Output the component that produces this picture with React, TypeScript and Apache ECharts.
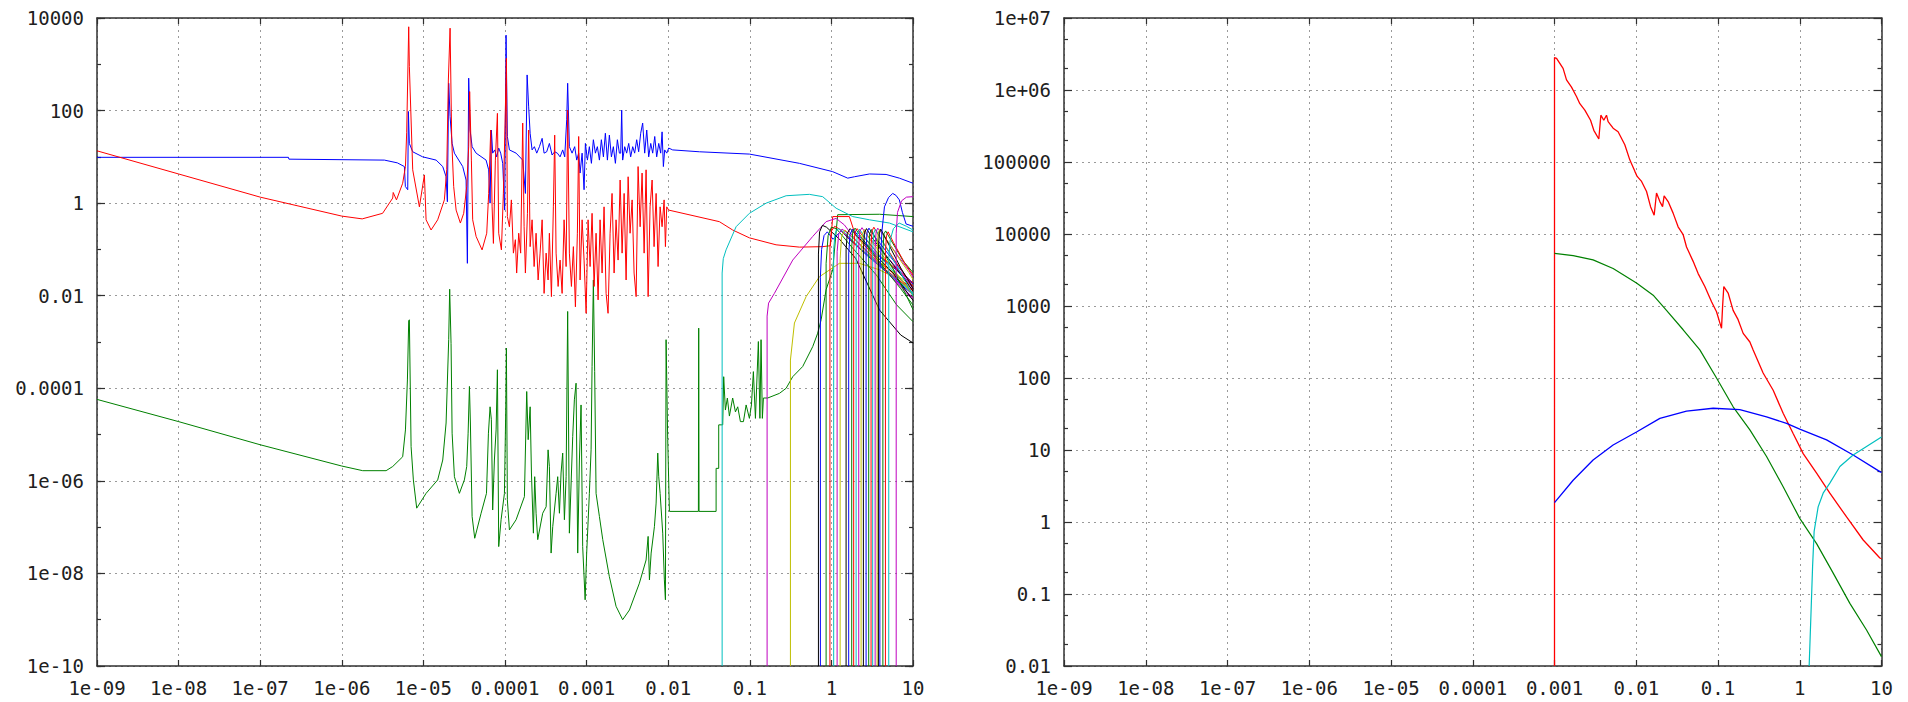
import React, { useEffect, useRef } from "react";
import * as echarts from "echarts";

// The axes are drawn on those exponents and labelled in gnuplot "%g" style.

type P = [number, number];

// ---------- LEFT PANEL ----------
const leftBlue: P[] = [[-9,0.99],[-6.654,0.99],[-6.648,0.95],[-5.478,0.93],[-5.319,0.87],[-5.233,0.79],[-5.221,0.36],[-5.192,0.29],[-5.184,1.98],[-5.172,1.29],[-5.131,1.11],[-5.009,1.0],[-4.844,0.93],[-4.763,0.79],[-4.722,0.57],[-4.706,0.03],[-4.69,2.59],[-4.673,1.87],[-4.648,1.29],[-4.62,1.08],[-4.518,0.79],[-4.477,0.5],[-4.461,-1.3],[-4.445,2.7],[-4.428,1.58],[-4.403,1.22],[-4.354,1.08],[-4.232,0.93],[-4.2,0.72],[-4.183,0.0],[-4.167,1.58],[-4.151,1.08],[-4.126,1.15],[-4.102,1.0],[-4.077,1.19],[-4.053,1.08],[-4.028,0.86],[-4.004,-0.15],[-3.987,3.63],[-3.971,1.44],[-3.946,1.15],[-3.864,1.08],[-3.783,0.93],[-3.75,0.21],[-3.729,2.77],[-3.71,2.08],[-3.692,1.51],[-3.668,1.15],[-3.64,1.22],[-3.611,1.08],[-3.578,1.22],[-3.545,1.4],[-3.521,1.08],[-3.489,1.11],[-3.456,1.29],[-3.423,1.04],[-3.391,1.11],[-3.358,1.08],[-3.325,1.0],[-3.293,1.15],[-3.268,1.0],[-3.244,1.8],[-3.232,2.59],[-3.211,1.22],[-3.178,1.08],[-3.146,1.22],[-3.121,0.93],[-3.097,1.08],[-3.08,0.65],[-3.055,1.08],[-3.031,0.29],[-3.015,1.29],[-2.99,0.93],[-2.966,1.22],[-2.941,0.86],[-2.917,1.37],[-2.892,1.08],[-2.868,1.22],[-2.843,0.93],[-2.819,1.37],[-2.794,1.0],[-2.77,1.51],[-2.745,0.93],[-2.721,1.47],[-2.696,1.0],[-2.672,1.22],[-2.647,0.86],[-2.623,1.37],[-2.598,1.08],[-2.582,1.08],[-2.57,2.01],[-2.558,0.93],[-2.533,1.22],[-2.509,1.08],[-2.484,1.29],[-2.46,1.0],[-2.435,1.22],[-2.411,1.08],[-2.386,1.37],[-2.362,1.11],[-2.337,1.51],[-2.313,1.73],[-2.288,1.08],[-2.263,1.58],[-2.239,1.0],[-2.214,1.29],[-2.19,1.08],[-2.165,1.44],[-2.141,1.0],[-2.116,1.29],[-2.092,1.08],[-2.075,1.54],[-2.059,0.79],[-2.043,1.15],[-2.018,1.08],[-1.994,1.19],[-1.945,1.15],[-1.618,1.11],[-1.005,1.06],[-0.392,0.86],[0.016,0.68],[0.2,0.54],[0.282,0.57],[0.466,0.63],[0.67,0.62],[0.833,0.54],[1.0,0.43]];

const leftGreen: P[] = [[-9,-4.24],[-8,-4.72],[-7,-5.22],[-6,-5.68],[-5.744,-5.78],[-5.457,-5.78],[-5.376,-5.69],[-5.254,-5.48],[-5.22,-4.9],[-5.196,-3.82],[-5.18,-2.54],[-5.172,-2.52],[-5.151,-5.26],[-5.123,-5.98],[-5.082,-6.59],[-4.967,-6.27],[-4.825,-5.98],[-4.763,-5.55],[-4.722,-4.75],[-4.69,-2.95],[-4.678,-1.86],[-4.661,-3.03],[-4.648,-4.97],[-4.62,-5.91],[-4.559,-6.27],[-4.498,-5.98],[-4.469,-5.69],[-4.452,-4.97],[-4.436,-3.96],[-4.424,-4.75],[-4.403,-6.77],[-4.371,-7.24],[-4.293,-6.7],[-4.227,-6.27],[-4.203,-4.97],[-4.183,-4.4],[-4.167,-4.68],[-4.151,-6.63],[-4.13,-5.55],[-4.109,-4.9],[-4.093,-3.6],[-4.077,-7.42],[-4.048,-6.84],[-4.007,-6.27],[-3.991,-4.47],[-3.983,-3.13],[-3.971,-6.41],[-3.946,-7.06],[-3.864,-6.84],[-3.762,-6.34],[-3.734,-4.07],[-3.716,-5.11],[-3.692,-4.4],[-3.676,-5.83],[-3.652,-7.13],[-3.636,-5.91],[-3.619,-6.7],[-3.599,-7.27],[-3.538,-6.7],[-3.496,-6.56],[-3.472,-5.33],[-3.456,-5.69],[-3.435,-7.56],[-3.415,-6.99],[-3.374,-6.27],[-3.354,-5.91],[-3.333,-6.7],[-3.313,-5.83],[-3.293,-5.4],[-3.272,-6.84],[-3.251,-5.91],[-3.232,-2.34],[-3.211,-7.13],[-3.17,-5.04],[-3.15,-4.25],[-3.129,-3.89],[-3.109,-7.56],[-3.088,-5.55],[-3.068,-4.36],[-3.048,-7.42],[-3.018,-8.57],[-2.999,-7.56],[-2.966,-6.27],[-2.945,-5.33],[-2.933,-3.53],[-2.917,-1.66],[-2.901,-3.64],[-2.884,-6.27],[-2.843,-6.77],[-2.802,-7.27],[-2.721,-8.07],[-2.639,-8.71],[-2.558,-9.0],[-2.475,-8.79],[-2.353,-8.21],[-2.271,-7.71],[-2.246,-7.2],[-2.23,-8.14],[-2.209,-7.56],[-2.169,-6.99],[-2.148,-6.48],[-2.128,-5.4],[-2.116,-5.91],[-2.099,-6.27],[-2.067,-7.13],[-2.047,-8.14],[-2.034,-8.57],[-2.026,-2.95],[-2.006,-5.11],[-1.985,-6.66],[-1.63,-6.66],[-1.626,-2.7],[-1.622,-6.66],[-1.413,-6.66],[-1.413,-5.73],[-1.381,-5.73],[-1.381,-4.79],[-1.332,-4.79],[-1.32,-3.75],[-1.299,-4.47],[-1.275,-4.21],[-1.25,-4.6],[-1.21,-4.21],[-1.176,-4.51],[-1.148,-4.4],[-1.115,-4.72],[-1.078,-4.72],[-1.045,-4.36],[-1.005,-4.65],[-0.98,-4.36],[-0.956,-3.64],[-0.931,-4.65],[-0.895,-2.99],[-0.876,-4.65],[-0.862,-2.95],[-0.846,-4.65],[-0.833,-4.21],[-0.781,-4.21],[-0.637,-4.11],[-0.555,-4.0],[-0.474,-3.75],[-0.352,-3.53],[-0.229,-3.1],[-0.168,-2.81],[-0.126,-2.52],[-0.065,-1.87],[0.016,-1.44],[0.077,-0.25],[0.588,-0.24],[1.0,-0.29]];

const leftRed: P[] = [[-9,1.13],[-8,0.63],[-7,0.13],[-6,-0.28],[-5.75,-0.34],[-5.5,-0.22],[-5.376,0.11],[-5.37,0.23],[-5.33,0.07],[-5.254,0.43],[-5.22,0.79],[-5.205,1.52],[-5.18,3.81],[-5.172,2.95],[-5.131,0.72],[-5.049,-0.08],[-4.988,0.61],[-4.967,-0.36],[-4.906,-0.58],[-4.825,-0.36],[-4.743,0.07],[-4.714,0.72],[-4.694,2.66],[-4.673,3.78],[-4.653,1.37],[-4.629,0.36],[-4.599,-0.15],[-4.547,-0.43],[-4.506,-0.22],[-4.469,0.36],[-4.445,1.22],[-4.433,2.41],[-4.412,0.93],[-4.396,-0.36],[-4.354,-0.72],[-4.281,-1.01],[-4.224,-0.65],[-4.2,0.21],[-4.175,1.58],[-4.158,-0.08],[-4.142,-0.87],[-4.118,0.93],[-4.093,1.94],[-4.077,-0.65],[-4.044,-1.01],[-4.02,0.21],[-3.999,1.73],[-3.983,3.13],[-3.971,-0.29],[-3.946,-0.51],[-3.922,0.07],[-3.897,-1.08],[-3.873,-0.79],[-3.857,-1.51],[-3.832,-0.65],[-3.808,-1.08],[-3.783,1.73],[-3.766,-0.51],[-3.75,-1.51],[-3.725,-0.22],[-3.71,1.58],[-3.692,-0.94],[-3.668,-0.36],[-3.643,-1.37],[-3.619,-0.65],[-3.594,-1.66],[-3.57,-1.08],[-3.545,-0.36],[-3.521,-1.95],[-3.496,-1.08],[-3.472,-1.66],[-3.456,-0.65],[-3.431,-2.02],[-3.407,-0.08],[-3.391,1.47],[-3.374,-1.08],[-3.349,-1.8],[-3.325,-1.23],[-3.3,-1.95],[-3.276,-0.36],[-3.251,-1.37],[-3.232,2.01],[-3.211,-1.08],[-3.186,-1.8],[-3.162,-0.94],[-3.137,-2.24],[-3.113,-0.65],[-3.097,1.44],[-3.08,-1.66],[-3.055,-0.36],[-3.031,-1.23],[-3.006,-2.38],[-2.982,-0.36],[-2.957,-1.37],[-2.933,-0.22],[-2.908,-1.8],[-2.884,-0.65],[-2.859,-2.09],[-2.835,-0.36],[-2.81,-1.51],[-2.786,-0.08],[-2.761,-1.95],[-2.737,-2.38],[-2.712,-0.65],[-2.688,0.21],[-2.663,-1.51],[-2.639,-0.36],[-2.614,-1.23],[-2.589,0.5],[-2.565,-1.08],[-2.54,0.21],[-2.516,-1.66],[-2.491,0.57],[-2.467,-0.65],[-2.442,0.07],[-2.418,-1.51],[-2.393,-2.02],[-2.369,0.79],[-2.344,-0.51],[-2.32,0.65],[-2.295,-1.08],[-2.271,0.72],[-2.246,-2.02],[-2.222,-0.08],[-2.197,0.5],[-2.173,-0.94],[-2.148,0.21],[-2.124,-1.37],[-2.099,-0.08],[-2.075,-0.51],[-2.05,0.07],[-2.034,-0.94],[-2.018,-0.08],[-1.994,-0.15],[-1.373,-0.4],[-1.21,-0.58],[-1.005,-0.75],[-0.678,-0.9],[-0.392,-0.95],[-0.107,-0.94],[-0.012,-0.92],[0.016,-0.29],[0.22,-0.29],[0.294,-0.69],[0.588,-1.27],[1.0,-1.87]];

const leftCyanWide: P[] = [[-1.339,-10],[-1.339,-1.51],[-1.325,-1.2],[-1.291,-1.01],[-1.168,-0.51],[-1.005,-0.22],[-0.8,0.0],[-0.555,0.16],[-0.27,0.19],[-0.107,0.14],[0.058,-0.11],[0.261,-0.29],[0.466,-0.36],[0.711,-0.43],[1.0,-0.62]];
const leftMagentaWide: P[] = [[-0.788,-10],[-0.788,-2.44],[-0.77,-2.16],[-0.699,-1.95],[-0.474,-1.23],[-0.229,-0.72],[-0.065,-0.4],[0.058,-0.33],[0.159,-0.47],[0.343,-0.9],[0.588,-1.33],[1.0,-2.09]];
const leftYellowWide: P[] = [[-0.502,-10],[-0.502,-3.39],[-0.453,-2.59],[-0.31,-2.02],[-0.147,-1.59],[0.098,-1.3],[0.343,-1.3],[0.588,-1.44],[0.833,-1.66],[1.0,-1.98]];

// The bundle of narrow curves between x = 0.7 and x = 6, in plotting order.
const bundleColorKeys = ["k","b","g","r","c","m","y","k","b","g","r","c","m","y","k","b","g","r","c","m","y","k","b","g","r","c","m"];
const bundleCurves: P[][] = [
  [[-0.159,-10],[-0.159,-1.1],[-0.145,-0.62],[-0.11,-0.48],[-0.06,-0.52],[0.1,-0.78],[0.3,-1.2],[0.59,-2.31],[0.85,-2.85],[1.0,-3.02]],
  [[-0.135,-10],[-0.135,-1.6],[-0.12,-1.0],[-0.09,-0.7],[-0.05,-0.62],[0.02,-0.78],[0.12,-0.6],[0.2,-0.75],[0.45,-1.15],[0.75,-1.6],[1.0,-1.98]],
  [[-0.065,-10],[-0.065,-1.3],[-0.04,-0.7],[0.0,-0.52],[0.06,-0.55],[0.25,-0.95],[0.55,-1.55],[0.8,-2.2],[1.0,-2.56]],
  [[-0.018,-10],[-0.018,-0.95],[0.0,-0.6],[0.04,-0.5],[0.1,-0.56],[0.3,-0.9],[0.6,-1.35],[1.0,-1.9]],
  [[0.028,-10],[0.028,-1.0],[0.045,-0.65],[0.08,-0.55],[0.15,-0.62],[0.4,-1.05],[0.7,-1.5],[1.0,-1.95]],
  [[0.07,-10],[0.07,-1.05],[0.09,-0.66],[0.13,-0.56],[0.2,-0.65],[0.42,-1.0],[0.75,-1.6],[1.0,-2.05]],
  [[0.107,-10],[0.107,-1.2],[0.125,-0.72],[0.165,-0.58],[0.24,-0.7],[0.5,-1.15],[0.8,-1.55],[1.0,-1.8]],
  [[0.18,-10],[0.18,-1.0],[0.195,-0.65],[0.23,-0.55],[0.3,-0.68],[0.5,-1.05],[0.75,-1.5],[1.0,-2.1]],
  [[0.212,-10],[0.212,-1.1],[0.228,-0.68],[0.26,-0.56],[0.33,-0.7],[0.55,-1.1],[0.8,-1.45],[1.0,-1.8]],
  [[0.249,-10],[0.249,-0.95],[0.262,-0.62],[0.29,-0.54],[0.36,-0.72],[0.6,-1.3],[0.85,-1.85],[1.0,-2.2]],
  [[0.273,-10],[0.273,-1.0],[0.288,-0.64],[0.315,-0.55],[0.38,-0.7],[0.6,-1.15],[0.85,-1.5],[1.0,-1.72]],
  [[0.303,-10],[0.303,-1.05],[0.318,-0.66],[0.345,-0.56],[0.41,-0.74],[0.62,-1.2],[0.85,-1.65],[1.0,-1.95]],
  [[0.335,-10],[0.335,-0.9],[0.35,-0.6],[0.375,-0.53],[0.44,-0.7],[0.65,-1.1],[0.88,-1.55],[1.0,-1.85]],
  [[0.364,-10],[0.364,-1.1],[0.378,-0.68],[0.405,-0.57],[0.47,-0.78],[0.68,-1.25],[0.9,-1.75],[1.0,-2.0]],
  [[0.392,-10],[0.392,-1.0],[0.405,-0.64],[0.43,-0.55],[0.5,-0.75],[0.7,-1.2],[0.9,-1.65],[1.0,-1.9]],
  [[0.425,-10],[0.425,-0.95],[0.438,-0.62],[0.46,-0.54],[0.52,-0.7],[0.72,-1.15],[0.9,-1.55],[1.0,-1.75]],
  [[0.457,-10],[0.457,-1.05],[0.47,-0.66],[0.49,-0.57],[0.55,-0.8],[0.75,-1.4],[0.92,-2.0],[1.0,-2.3]],
  [[0.486,-10],[0.486,-0.9],[0.498,-0.6],[0.52,-0.52],[0.58,-0.7],[0.78,-1.25],[0.93,-1.62],[1.0,-1.8]],
  [[0.506,-10],[0.506,-1.0],[0.518,-0.65],[0.54,-0.56],[0.6,-0.75],[0.8,-1.35],[0.94,-1.8],[1.0,-2.0]],
  [[0.536,-10],[0.536,-0.95],[0.548,-0.62],[0.568,-0.54],[0.63,-0.68],[0.82,-1.15],[0.95,-1.45],[1.0,-1.6]],
  [[0.56,-10],[0.56,-1.05],[0.572,-0.66],[0.59,-0.57],[0.65,-0.72],[0.83,-1.2],[0.95,-1.5],[1.0,-1.65]],
  [[0.576,-10],[0.576,-1.0],[0.588,-0.64],[0.605,-0.56],[0.67,-0.78],[0.85,-1.4],[0.96,-1.72],[1.0,-1.85]],
  [[0.594,-10],[0.594,-1.45],[0.62,-0.6],[0.65,-0.08],[0.7,0.12],[0.751,0.21],[0.79,0.17],[0.833,0.07],[0.87,-0.2],[0.915,-0.45],[1.0,-0.5]],
  [[0.631,-10],[0.631,-1.0],[0.645,-0.66],[0.665,-0.6],[0.73,-0.8],[0.88,-1.25],[1.0,-1.5]],
  [[0.662,-10],[0.662,-1.05],[0.675,-0.7],[0.695,-0.62],[0.76,-0.85],[0.9,-1.3],[1.0,-1.55]],
  [[0.703,-10],[0.703,-1.2],[0.72,-0.8],[0.76,-0.55],[0.83,-0.43],[0.92,-0.5],[1.0,-0.58]],
  [[0.794,-10],[0.794,-0.65],[0.81,-0.2],[0.86,0.05],[0.92,0.13],[1.0,0.14]],
];

// ---------- RIGHT PANEL ----------
const rightRed: P[] = [[-3,-2],[-3,6.45],[-2.975,6.44],[-2.895,6.3],[-2.853,6.14],[-2.792,6.04],[-2.731,5.91],[-2.69,5.81],[-2.629,5.72],[-2.559,5.58],[-2.519,5.44],[-2.458,5.32],[-2.433,5.65],[-2.397,5.58],[-2.364,5.65],[-2.344,5.56],[-2.283,5.47],[-2.222,5.42],[-2.14,5.24],[-2.079,5.03],[-2.017,4.87],[-1.989,4.8],[-1.935,4.73],[-1.874,4.59],[-1.825,4.38],[-1.781,4.26],[-1.752,4.57],[-1.711,4.45],[-1.678,4.38],[-1.659,4.53],[-1.61,4.45],[-1.549,4.29],[-1.488,4.1],[-1.426,3.99],[-1.385,3.82],[-1.304,3.62],[-1.243,3.45],[-1.161,3.27],[-1.079,3.06],[-1.018,2.92],[-0.957,2.69],[-0.944,2.99],[-0.929,3.27],[-0.876,3.18],[-0.815,2.94],[-0.754,2.81],[-0.692,2.62],[-0.61,2.5],[-0.57,2.39],[-0.448,2.07],[-0.325,1.83],[-0.203,1.51],[-0.081,1.23],[0.042,0.95],[0.206,0.68],[0.368,0.4],[0.573,0.07],[0.776,-0.25],[0.98,-0.5],[1.0,-0.51]];
const rightGreen: P[] = [[-3,3.73],[-2.772,3.7],[-2.528,3.64],[-2.283,3.52],[-1.997,3.32],[-1.793,3.15],[-1.63,2.94],[-1.426,2.67],[-1.222,2.39],[-1.018,2.0],[-0.815,1.6],[-0.61,1.28],[-0.406,0.91],[-0.203,0.49],[0.0,0.05],[0.206,-0.3],[0.409,-0.71],[0.613,-1.13],[0.817,-1.5],[1.0,-1.87]];
const rightBlue: P[] = [[-3,0.27],[-2.772,0.58],[-2.528,0.86],[-2.283,1.07],[-1.997,1.25],[-1.711,1.44],[-1.385,1.54],[-1.059,1.58],[-0.733,1.56],[-0.406,1.46],[-0.161,1.37],[0.0,1.29],[0.328,1.14],[0.653,0.93],[0.98,0.7],[1.0,0.69]];
const rightCyan: P[] = [[0.115,-2],[0.136,-1.32],[0.157,-0.62],[0.176,-0.13],[0.225,0.21],[0.286,0.4],[0.368,0.54],[0.491,0.77],[0.653,0.93],[0.817,1.05],[1.0,1.18]];

// Axis ranges (decade exponents)
const xRange = [-9, 1];
const leftYRange = [-10, 4];
const rightYRange = [-2, 7];
const rightMinorMultipliers = [2, 5];

const COLORS: Record<string, string> = {
  b: "#0000ff", g: "#008000", r: "#ff0000", c: "#00bfbf", m: "#bf00bf", y: "#bfbf00", k: "#000000",
};

const FONT = "DejaVu Sans Mono";
const AXIS_COLOR = "#303030";
const GRID_COLOR = "#9a9a9a";

function gnuplotPow10(v: number): string {
  const n = Math.round(v);
  if (n < -4 || n >= 6) {
    const a = Math.abs(n);
    return "1e" + (n < 0 ? "-" : "+") + (a < 10 ? "0" + a : String(a));
  }
  if (n >= 0) return "1" + "0".repeat(n);
  return "0." + "0".repeat(-n - 1) + "1";
}

const axisLine = { show: true, onZero: false, lineStyle: { color: AXIS_COLOR, width: 1.5 } };
const tick = (len: number, extra: any = {}) => ({
  show: true, inside: true, length: len, lineStyle: { color: AXIS_COLOR, width: 1.2 }, ...extra,
});
const labelStyle = { fontFamily: FONT, fontSize: 19, color: "#202020", showMinLabel: true, showMaxLabel: true, hideOverlap: false };
const gridLine = { show: true, showMinLine: true, showMaxLine: true, lineStyle: { color: GRID_COLOR, type: [2, 4], width: 1 } };

function xAxes(gridIndex: number) {
  const base = { type: "value", gridIndex, min: xRange[0], max: xRange[1], interval: 1 };
  return [
    { ...base, position: "bottom", axisLine, axisTick: tick(6),
      axisLabel: { ...labelStyle, margin: 12, formatter: (v: number) => gnuplotPow10(v) }, splitLine: gridLine },
    { ...base, position: "top", axisLine, axisTick: tick(6), axisLabel: { show: false }, splitLine: { show: false } },
  ];
}

function line(data: P[], color: string, xAxisIndex: number, yAxisIndex: number, width = 1) {
  return {
    type: "line", data, xAxisIndex, yAxisIndex, showSymbol: false, symbol: "none", silent: true,
    lineStyle: { color, width }, itemStyle: { color }, clip: true, animation: false, z: 3,
  };
}

function buildOption() {
  const minorVals: number[] = [];
  for (let d = rightYRange[0]; d < rightYRange[1]; d++) {
    for (const m of rightMinorMultipliers) minorVals.push(d + Math.log10(m));
  }
  const leftY = { type: "value", gridIndex: 0, min: leftYRange[0], max: leftYRange[1] };
  const rightY = { type: "value", gridIndex: 1, min: rightYRange[0], max: rightYRange[1] };

  const yAxis = [
    { ...leftY, interval: 2, position: "left", axisLine, axisTick: tick(8),
      axisLabel: { ...labelStyle, margin: 13, formatter: (v: number) => gnuplotPow10(v) }, splitLine: gridLine },
    { ...leftY, interval: 1, position: "left", axisLine: { show: false, onZero: false }, axisTick: tick(4),
      axisLabel: { show: false }, splitLine: { show: false } },
    { ...leftY, interval: 2, position: "right", axisLine, axisTick: tick(8), axisLabel: { show: false }, splitLine: { show: false } },
    { ...leftY, interval: 1, position: "right", axisLine: { show: false, onZero: false }, axisTick: tick(4),
      axisLabel: { show: false }, splitLine: { show: false } },
    { ...rightY, interval: 1, position: "left", axisLine, axisTick: tick(8),
      axisLabel: { ...labelStyle, margin: 13, formatter: (v: number) => gnuplotPow10(v) }, splitLine: gridLine },
    { ...rightY, interval: 1, position: "right", axisLine, axisTick: tick(8), axisLabel: { show: false }, splitLine: { show: false } },
    { ...rightY, interval: 1, position: "left", axisLine: { show: false, onZero: false },
      axisTick: tick(4, { customValues: minorVals }), axisLabel: { show: false }, splitLine: { show: false } },
    { ...rightY, interval: 1, position: "right", axisLine: { show: false, onZero: false },
      axisTick: tick(4, { customValues: minorVals }), axisLabel: { show: false }, splitLine: { show: false } },
  ];

  const series: any[] = [
    line(leftBlue, COLORS.b, 0, 0),
    line(leftGreen, COLORS.g, 0, 0),
    line(leftRed, COLORS.r, 0, 0),
    line(leftCyanWide, COLORS.c, 0, 0),
    line(leftMagentaWide, COLORS.m, 0, 0),
    line(leftYellowWide, COLORS.y, 0, 0),
  ];
  bundleCurves.forEach((c, i) => series.push(line(c, COLORS[bundleColorKeys[i]], 0, 0)));
  series.push(line(rightRed, COLORS.r, 2, 4, 1.3));
  series.push(line(rightGreen, COLORS.g, 2, 4, 1.2));
  series.push(line(rightBlue, COLORS.b, 2, 4, 1.3));
  series.push(line(rightCyan, COLORS.c, 2, 4, 1.2));

  return {
    animation: false,
    backgroundColor: "#ffffff",
    grid: [
      { left: 97, top: 18, width: 816, height: 648, containLabel: false },
      { left: 1064, top: 18, width: 817.5, height: 648, containLabel: false },
    ],
    xAxis: [...xAxes(0), ...xAxes(1)],
    yAxis,
    series,
  };
}

export default function App() {
  const ref = useRef<HTMLDivElement>(null);
  useEffect(() => {
    if (!ref.current) return;
    const chart = echarts.init(ref.current, undefined, { renderer: "svg" });
    chart.setOption(buildOption() as any);
    return () => chart.dispose();
  }, []);
  return (
    <div
      ref={ref}
      style={{ position: "fixed", left: 0, top: 0, width: 1908, height: 702, background: "#ffffff" }}
    />
  );
}
